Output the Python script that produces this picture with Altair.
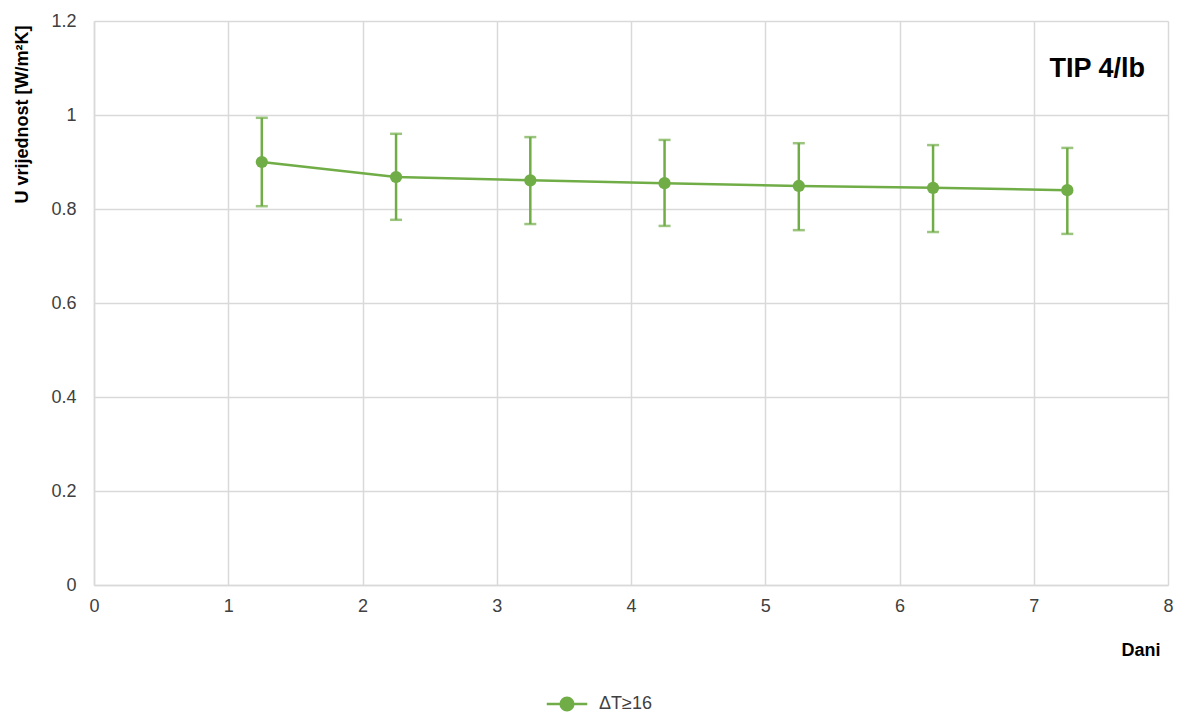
import altair as alt
import pandas as pd

days = [1.25, 2.25, 3.25, 4.25, 5.25, 6.25, 7.25]
u_values = [0.900, 0.868, 0.861, 0.855, 0.849, 0.845, 0.840]
err_low = [0.806, 0.777, 0.768, 0.764, 0.755, 0.751, 0.747]
err_high = [0.994, 0.960, 0.953, 0.947, 0.940, 0.936, 0.930]
series = ["ΔT≥16"] * len(days)

GREEN = "#70AD47"
FONT = "Liberation Sans Narrow, Liberation Sans, Arial, sans-serif"

df = pd.DataFrame({"Dani": days, "U": u_values, "lo": err_low, "hi": err_high, "s": series})

x = alt.X("Dani:Q", scale=alt.Scale(domain=[0, 8], nice=False),
          axis=alt.Axis(title="Dani", values=list(range(0, 9)), format="d",
                        labelFlush=False, labelBound=False, labelOverlap=False,
                        titleAlign="right", titleBaseline="alphabetic", titleX=1066, titleY=70,
                        titleFontWeight="bold", titleFontSize=18, titleColor="#000000",
                        labelFontSize=18, labelColor="#404040", labelPadding=12,
                        ticks=False, domain=True, domainColor="#d9d9d9", domainWidth=1.5,
                        grid=True, gridColor="#d9d9d9", gridWidth=1.5))
y = alt.Y("U:Q", scale=alt.Scale(domain=[0, 1.2], nice=False),
          axis=alt.Axis(title="U vrijednost [W/m²K]", values=[0, 0.2, 0.4, 0.6, 0.8, 1, 1.2],
                        labelExpr="datum.value == 0 || datum.value == 1 ? format(datum.value, 'd') : format(datum.value, '.1f')",
                        labelFlush=False, labelBound=False, labelOverlap=False,
                        titleAlign="right", titleBaseline="middle", titleAngle=-90, titleX=-72, titleY=4,
                        titleFontWeight="bold", titleFontSize=18,
                        titleColor="#000000", labelFontSize=18, labelColor="#404040", labelPadding=18,
                        ticks=False, domain=True, domainColor="#d9d9d9", domainWidth=1.5,
                        grid=True, gridColor="#d9d9d9", gridWidth=1.5))

base = alt.Chart(df)

line = base.mark_line(color=GREEN, strokeWidth=2.5).encode(x=x, y=y)
rules = base.mark_rule(color=GREEN, strokeWidth=2.5).encode(x="Dani:Q", y="lo:Q", y2="hi:Q")
cap_lo = base.mark_tick(color=GREEN, thickness=2.5, size=12, orient="horizontal").encode(x="Dani:Q", y="lo:Q")
cap_hi = base.mark_tick(color=GREEN, thickness=2.5, size=12, orient="horizontal").encode(x="Dani:Q", y="hi:Q")
points = base.mark_point(filled=True, size=150, opacity=1).encode(
    x="Dani:Q", y="U:Q",
    color=alt.Color("s:N", scale=alt.Scale(domain=["ΔT≥16"], range=[GREEN]),
                    legend=alt.Legend(title=None, orient="none", legendX=464, legendY=674,
                                      symbolType="M-3.2,0L3.2,0M-1,0A1,1 0 1 1 1,0A1,1 0 1 1 -1,0Z",
                                      symbolSize=160, symbolStrokeWidth=2.5, symbolStrokeColor=GREEN,
                                      symbolFillColor=GREEN, labelFontSize=18, labelColor="#404040",
                                      labelFont=FONT, labelOffset=23))
)

label = alt.Chart(pd.DataFrame({"t": ["TIP 4/lb"]})).mark_text(
    font=FONT, fontSize=27, fontWeight="bold", color="#000000", align="right", baseline="middle"
).encode(text="t:N", x=alt.value(1051), y=alt.value(48))

chart = alt.layer(line, rules, cap_lo, cap_hi, points, label).properties(
    width=1074, height=564,
    autosize=alt.AutoSizeParams(type="none"),
    padding={"left": 86, "top": 13, "right": 6, "bottom": 128},
).configure_view(stroke=None).configure_axis(labelFont=FONT, titleFont=FONT)

chart.save("out.html", embed_options={"renderer": "svg", "actions": False})
